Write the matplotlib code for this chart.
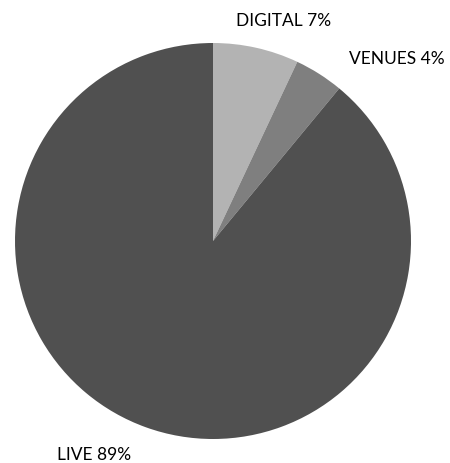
import matplotlib
matplotlib.use("Agg")
import matplotlib.pyplot as plt

categories = ["DIGITAL", "VENUES", "LIVE"]
values = [7, 4, 89]
colors = ["#b3b3b3", "#7f7f7f", "#505050"]

fig = plt.figure(figsize=(4.5, 4.64), dpi=100)
ax = fig.add_axes([0, 0, 1, 1])
ax.set_xlim(0, 450)
ax.set_ylim(0, 464)
ax.set_aspect("equal")
ax.axis("off")

ax.pie(values, colors=colors, startangle=90, counterclock=False,
       center=(213, 222), radius=198, wedgeprops=dict(linewidth=0))

label_pos = [(284, 443), (397, 405), (94, 9)]
for cat, v, (x, y) in zip(categories, values, label_pos):
    ax.text(x, y, f"{cat} {v}%", ha="center", va="center",
            fontsize=12.5, family="Lato", color="#000000")

ax.set_xlim(0, 450)
ax.set_ylim(0, 464)
fig.savefig("out.png", dpi=100)
